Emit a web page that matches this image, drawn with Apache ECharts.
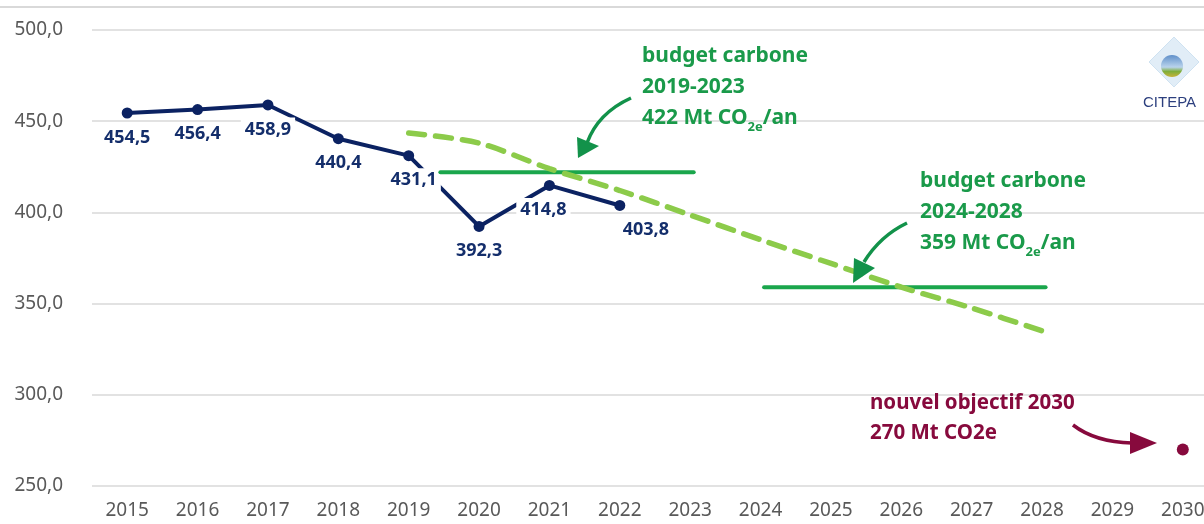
<!DOCTYPE html>
<html><head><meta charset="utf-8">
<script src="https://cdn.jsdelivr.net/npm/echarts@6/dist/echarts.min.js"></script>
<style>html,body{margin:0;padding:0;background:#fff}#c{width:1204px;height:524px}</style>
</head><body><div id="c"></div>
<script>
const years = ['2015','2016','2017','2018','2019','2020','2021','2022','2023','2024','2025','2026','2027','2028','2029','2030'];
const emissions = [454.5,456.4,458.9,440.4,431.1,392.3,414.8,403.8,null,null,null,null,null,null,null,null];
const trajectoryYears = [2019,2020,2021,2022,2023,2024,2025,2026,2027,2028.05];
const trajectoryValues = [443.5,438,424,412,398.6,385,372,359,347.6,334.4];
const budget1Years = [2019.45,2023.05];
const budget1Value = 422;
const budget2Years = [2024.05,2028.05];
const budget2Value = 359;
const target2030Year = '2030';
const target2030Value = 270;
const yMin = 250, yMax = 500, yStep = 50;

const NAVY = '#0b2262', LABELNAVY = '#142e6b', GREEN = '#1aa64c', GREENTXT = '#1a9a4a', LIGHT = '#8ccb4a', MAROON = '#870a3d';
const FONT = 'Noto Sans';
const labelOffsets = {4:[5,0],6:[-6,0],7:[26,0]};

const chart = echarts.init(document.getElementById('c'), null, {renderer:'canvas'});
const fmt = v => v.toFixed(1).replace('.', ',');

const emData = emissions.map((v,i) => {
  if (v == null) return null;
  const o = {value: v};
  if (labelOffsets[i]) o.label = {offset: labelOffsets[i]};
  return o;
});

const richGreen = {
  b:{fontSize:21,fontWeight:'bold',fontFamily:FONT,fill:GREENTXT,lineHeight:31},
  s:{fontSize:13,fontWeight:'bold',fontFamily:FONT,fill:GREENTXT,lineHeight:14,verticalAlign:'bottom'}
};
function arrow(x1,y1,cx,cy,x2,y2,head,color){
  return [
    {type:'bezierCurve',shape:{x1,y1,x2,y2,cpx1:cx,cpy1:cy},style:{stroke:color,lineWidth:3.5,fill:null},z:10},
    {type:'polygon',shape:{points:head},style:{fill:color},z:10}
  ];
}

chart.setOption({
  animation:false,
  backgroundColor:'#fff',
  grid:{left:92,width:1126,top:30,bottom:38,containLabel:false,outerBoundsMode:'none'},
  xAxis:[
    {type:'category',data:years,boundaryGap:true,axisLine:{show:false},axisTick:{show:false},
     axisLabel:{color:'#595959',fontSize:19,fontFamily:FONT,margin:15,interval:0,hideOverlap:false},splitLine:{show:false}},
    {type:'value',min:2014.5,max:2030.5,show:false}
  ],
  yAxis:{type:'value',min:yMin,max:yMax,interval:yStep,
    axisLine:{show:false},axisTick:{show:false},
    axisLabel:{color:'#595959',fontSize:19,fontFamily:FONT,margin:29,formatter:fmt},
    splitLine:{lineStyle:{color:'#d9d9d9',width:1.5}}},
  series:[
    {type:'line',xAxisIndex:0,data:emData,connectNulls:false,symbol:'circle',symbolSize:11,
     lineStyle:{color:NAVY,width:4},itemStyle:{color:NAVY},
     label:{show:true,position:'bottom',distance:7,formatter:p=>fmt(p.value),color:LABELNAVY,
       fontSize:18,fontWeight:'bold',fontFamily:FONT,backgroundColor:'#fff',padding:[3,4]},z:2},
    {type:'line',xAxisIndex:1,data:budget1Years.map(x=>[x,budget1Value]),symbol:'none',
     lineStyle:{color:GREEN,width:4,cap:'round'},z:3},
    {type:'line',xAxisIndex:1,data:budget2Years.map(x=>[x,budget2Value]),symbol:'none',
     lineStyle:{color:GREEN,width:4,cap:'round'},z:3},
    {type:'line',xAxisIndex:1,data:trajectoryYears.map((x,i)=>[x,trajectoryValues[i]]),symbol:'none',smooth:0.3,
     lineStyle:{color:LIGHT,width:5.5,type:[16,11],cap:'round'},z:4},
    {type:'scatter',xAxisIndex:0,data:[[target2030Year,target2030Value]],symbol:'circle',symbolSize:12,
     itemStyle:{color:MAROON,opacity:1},z:5}
  ],
  graphic:[
    {type:'line',shape:{x1:0,y1:7,x2:1204,y2:7},style:{stroke:'#d9d9d9',lineWidth:2}},
    {type:'text',left:642,top:46,style:{text:'{b|budget carbone}\n{b|2019-2023}\n{b|422 Mt CO}{s|2e}{b|/an}',rich:richGreen},z:10},
    {type:'text',left:920,top:171,style:{text:'{b|budget carbone}\n{b|2024-2028}\n{b|359 Mt CO}{s|2e}{b|/an}',rich:richGreen},z:10},
    {type:'text',left:870,top:388,style:{text:'nouvel objectif 2030\n270 Mt CO2e',fill:MAROON,fontSize:20.5,fontWeight:'bold',fontFamily:FONT,lineHeight:30},z:10},
    ...arrow(631,98,598,113,587,143,[[578,158],[577,137],[599,146]],'#12924a'),
    ...arrow(907,223,880,236,864,262,[[853,283],[854,258],[875,268]],'#12924a'),
    ...arrow(1073,425,1095,442,1132,443,[[1157,443],[1130,432],[1130,454]],MAROON),
    {type:'polygon',shape:{points:[[1174,37],[1199,62],[1174,87],[1149,62]]},
     style:{fill:'rgba(200,222,240,0.55)',stroke:'#cfe2f1',lineWidth:1},z:10},
    {type:'circle',shape:{cx:1172,cy:66,r:11},
     style:{fill:{type:'linear',x:0,y:0,x2:0,y2:1,colorStops:[{offset:0,color:'#5f8fc9'},{offset:0.55,color:'#b9d3ec'},{offset:0.75,color:'#7fae3a'},{offset:1,color:'#c7b23a'}]}},z:11},
    {type:'text',left:1143,top:95,style:{text:'CITEPA',fill:'#2c3f7e',fontSize:15,fontFamily:'Liberation Sans'},z:10}
  ]
});
</script></body></html>
